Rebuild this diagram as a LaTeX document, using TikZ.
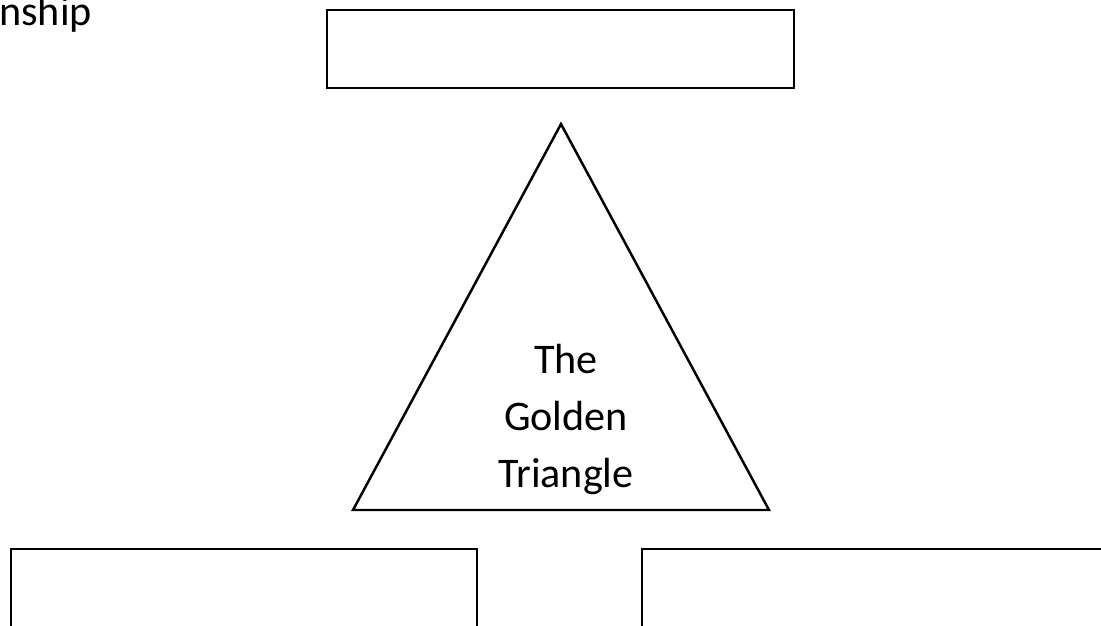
\documentclass[tikz,border=0pt]{standalone}
\usepackage{fontspec}
\setmainfont{Carlito}
\usetikzlibrary{positioning}
\tikzset{
  box/.style={draw, rectangle, line width=1.4pt, inner sep=0pt},
  lbl/.style={font=\fontsize{24}{32.3}\selectfont, align=center, inner sep=0pt},
}

\begin{document}
\begin{tikzpicture}[x=0.02cm, y=-0.02cm]

% Page frame
\useasboundingbox (0,0) rectangle (1101,625);
\clip (0,0) rectangle (1101,625);

% Heading (cut at the left edge)
\node[lbl, anchor=base west] (head) at (-1,26) {nship};

% Top box
\node[box, minimum width=9.34cm, minimum height=1.56cm] (topbox) at (560.5,49) {};

% Triangle
\coordinate (apex) at (561,124);
\coordinate (bl) at (353,510);
\coordinate (br) at (769,510);
\draw[line width=1.4pt, line join=miter] (apex) -- (bl) -- (br) -- cycle;
\node[lbl, anchor=base] (gold) at (566,487) {The\\Golden\\Triangle};

% Bottom boxes (running off the page)
\node[box, minimum width=9.32cm, minimum height=3.2cm] (leftbox) at (244,629) {};
\node[box, minimum width=10.36cm, minimum height=3.2cm] (rightbox) at (901,629) {};

\end{tikzpicture}
\end{document}
